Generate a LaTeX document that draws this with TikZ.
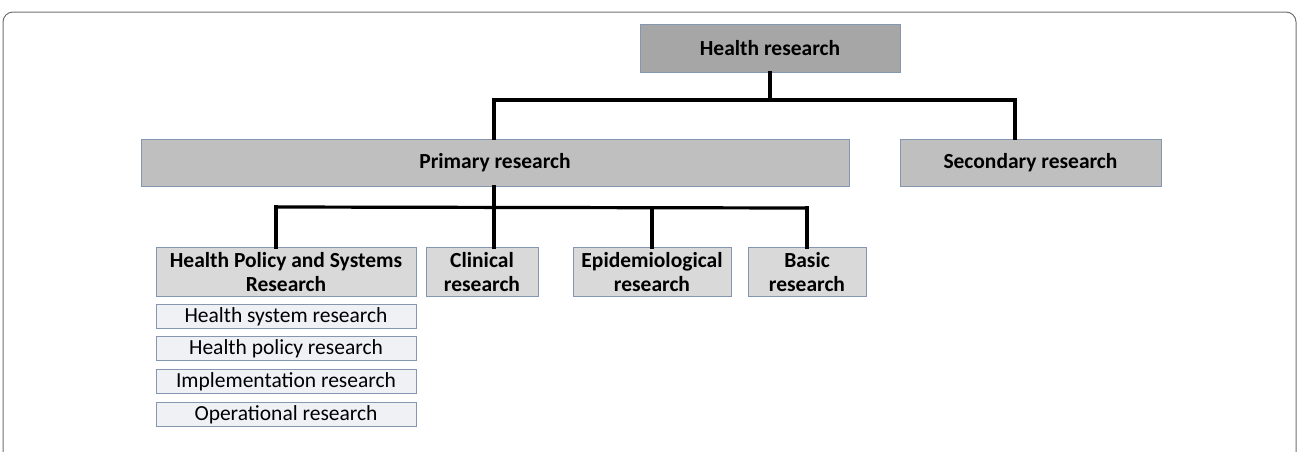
\documentclass[tikz,border=0pt]{standalone}
\usepackage{fontspec}
\setmainfont{Carlito}
\begin{document}
\begin{tikzpicture}[x=1pt,y=-1pt,
  box/.style={draw=edgeblue, line width=1pt, inner sep=1pt, align=center,
              font=\bfseries\fontsize{21.5}{24.5}\selectfont},
  top/.style={box, fill=gray65},
  mid/.style={box, fill=gray75},
  low/.style={box, fill=gray85},
  sub/.style={draw=edgeblue, line width=0.9pt, fill=subfill, inner sep=0pt,
              font=\fontsize{21.5}{24}\selectfont, minimum width=260pt, minimum height=24pt},
  link/.style={line width=3.2pt, black, line cap=rect}]
\definecolor{edgeblue}{HTML}{8496B0}
\definecolor{gray65}{HTML}{A6A6A6}
\definecolor{gray75}{HTML}{BFBFBF}
\definecolor{gray85}{HTML}{D9D9D9}
\definecolor{subfill}{HTML}{EFF1F5}
\definecolor{frame}{HTML}{707070}
\useasboundingbox (0,0) rectangle (1300,451);

% outer frame, open at the bottom
\draw[frame, line width=1pt, rounded corners=10pt]
  (3,452) -- (3,12) -- (1296,12) -- (1296,452);

% boxes
\node[top, minimum width=260pt, minimum height=48pt] (hr) at (770,48) {Health research};
\node[mid, minimum width=708pt, minimum height=47pt] (pr) at (495,162.5) {Primary research};
\node[mid, minimum width=261pt, minimum height=47pt] (sr) at (1030.5,162.5) {Secondary research};

\node[low, minimum width=260pt, minimum height=49pt] (hp) at (286,272) {Health Policy and Systems\\Research};
\node[low, minimum width=112pt, minimum height=49pt] (cl) at (482,272) {Clinical\\research};
\node[low, minimum width=158pt, minimum height=49pt] (ep) at (652,272) {Epidemiological\\research};
\node[low, minimum width=118pt, minimum height=49pt] (ba) at (807,272) {Basic\\research};

\node[sub] (s1) at (286,316.5) {Health system research};
\node[sub] (s2) at (286,348.5) {Health policy research};
\node[sub] (s3) at (286,381.5) {Implementation research};
\node[sub] (s4) at (286,414.5) {Operational research};

% connector points
\coordinate (j1) at (770,100);
\coordinate (j1l) at (494,100);
\coordinate (j1r) at (1015,100);
\coordinate (j2) at (494,207);
\coordinate (j2l) at (276,207);
\coordinate (j2r) at (807,208);
\coordinate (j2e) at (652,207.5);

% connectors
\draw[link] (hr.south) -- (j1);
\draw[link] (j1l) -- (j1r);
\draw[link] (j1l) -- (j1l |- pr.north);
\draw[link] (j1r) -- (j1r |- sr.north);
\draw[link] (pr.south -| j2) -- (j2);
\draw[link] (j2l) -- (j2r);
\draw[link] (j2l) -- (j2l |- hp.north);
\draw[link] (j2) -- (j2 |- cl.north);
\draw[link] (j2e) -- (j2e |- ep.north);
\draw[link] (j2r) -- (j2r |- ba.north);
\end{tikzpicture}
\end{document}
